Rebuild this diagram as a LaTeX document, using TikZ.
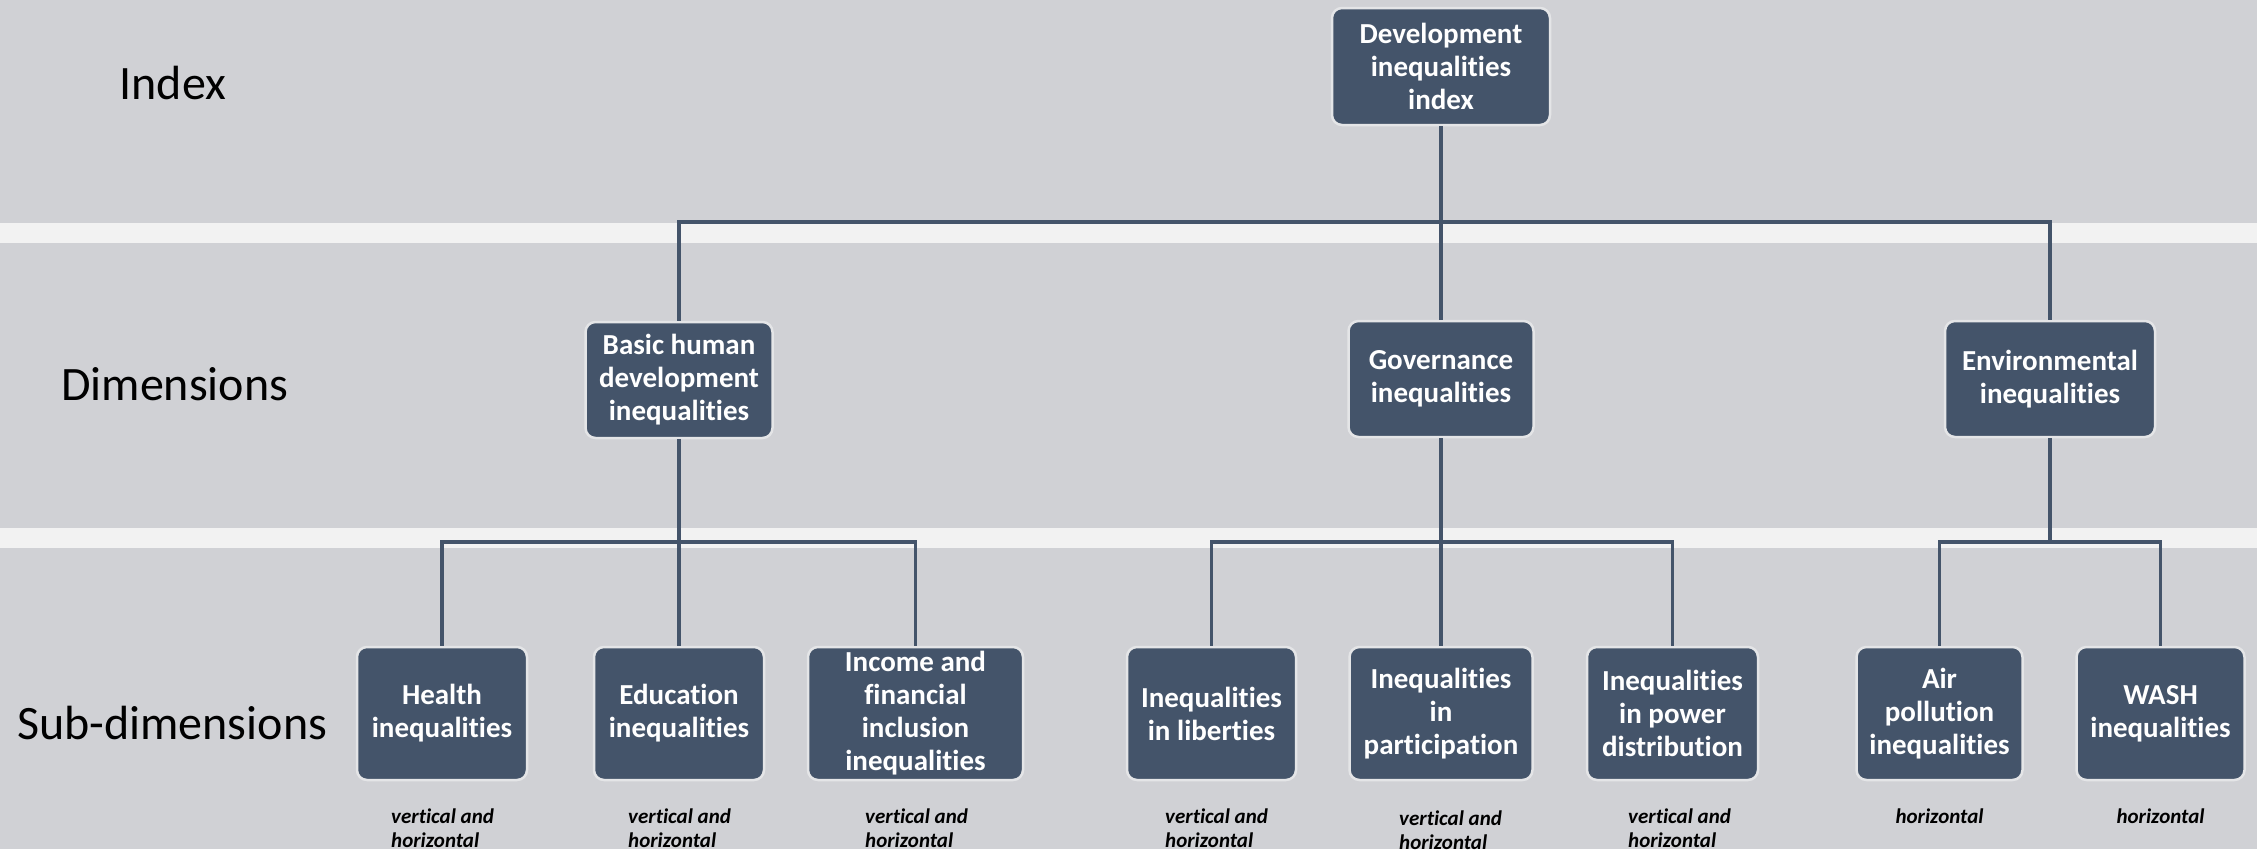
\documentclass[tikz,border=0pt]{standalone}
\usepackage{fontspec}
\setmainfont{Carlito}[Ligatures=NoCommon]
\definecolor{boxfill}{HTML}{44546A}
\definecolor{bggrey}{HTML}{D0D1D5}
\definecolor{stripe}{HTML}{F2F2F2}
\definecolor{boxedge}{HTML}{E4E5E7}
\begin{document}
\begin{tikzpicture}[x=1pt,y=-1pt,
  box/.style={draw=boxedge, line width=2.5pt, fill=boxfill, rounded corners=10pt, text=white,
    font=\fontsize{29}{33}\selectfont\bfseries, align=center, inner sep=0pt},
  dimbox/.style={box, minimum height=116pt},
  subbox/.style={box, minimum height=133pt},
  conn/.style={draw=boxfill, line width=3.1pt},
  level/.style={font=\fontsize{48}{56}\selectfont, anchor=base west, inner sep=0pt, text=black},
  note/.style={font=\fontsize{21}{24}\selectfont\bfseries\itshape, align=left, inner sep=0pt, anchor=north west, text=black}]
\fill[bggrey] (0,0) rectangle (2257,849);
\fill[stripe] (0,223) rectangle (2257,243);
\fill[stripe] (0,528) rectangle (2257,548);
\useasboundingbox (0,0) rectangle (2257,849);

\node[level] (lindex) at (119.5,99.5) {Index};
\node[level] (ldim) at (61,400) {Dimensions};
\node[level] (lsub) at (17,739) {Sub-dimensions};

\node[box, minimum width=218pt, minimum height=117pt] (top) at (1441,66.5) {Development\\inequalities\\index};

\node[dimbox, minimum width=187pt] (basic) at (679,380) {Basic human\\development\\inequalities};
\node[dimbox, minimum width=185pt] (gov) at (1441,379) {Governance\\inequalities};
\node[dimbox, minimum width=210pt] (env) at (2050,379) {Environmental\\inequalities};

\node[subbox, minimum width=170pt] (health) at (442,713.5) {Health\\inequalities};
\node[subbox, minimum width=170pt] (edu) at (679,713.5) {Education\\inequalities};
\node[subbox, minimum width=215pt] (income) at (915.5,713.5) {Income and\\financial\\inclusion\\inequalities};
\node[subbox, minimum width=169pt] (lib) at (1211.5,713.5) {Inequalities\\in liberties};
\node[subbox, minimum width=183pt] (part) at (1441,713.5) {Inequalities\\in\\participation};
\node[subbox, minimum width=171pt] (power) at (1672.5,713.5) {Inequalities\\in power\\distribution};
\node[subbox, minimum width=166pt] (air) at (1939.5,713.5) {Air\\pollution\\inequalities};
\node[subbox, minimum width=168pt] (wash) at (2160.5,713.5) {WASH\\inequalities};

\coordinate (h1) at (0,222);
\coordinate (h2) at (0,542);

\draw[conn] (top.south) -- (gov.north);
\draw[conn] (basic.north) -- (basic.north |- h1) -- (env.north |- h1) -- (env.north);
\draw[conn] (basic.south) -- (edu.north);
\draw[conn] (health.north) -- (health.north |- h2) -- (income.north |- h2) -- (income.north);
\draw[conn] (gov.south) -- (part.north);
\draw[conn] (lib.north) -- (lib.north |- h2) -- (power.north |- h2) -- (power.north);
\draw[conn] (env.south) -- (env.south |- h2);
\draw[conn] (air.north) -- (air.north |- h2) -- (wash.north |- h2) -- (wash.north);

\node[note] (nhealth) at (391,809) {vertical and\\horizontal};
\node[note] (nedu) at (628,809) {vertical and\\horizontal};
\node[note] (nincome) at (865,809) {vertical and\\horizontal};
\node[note] (nlib) at (1165,809) {vertical and\\horizontal};
\node[note] (npart) at (1399,811) {vertical and\\horizontal};
\node[note] (npower) at (1628,809) {vertical and\\horizontal};
\node[note, anchor=center] (nair) at (1939.5,816) {horizontal};
\node[note, anchor=center] (nwash) at (2160.5,816) {horizontal};
\end{tikzpicture}
\end{document}
